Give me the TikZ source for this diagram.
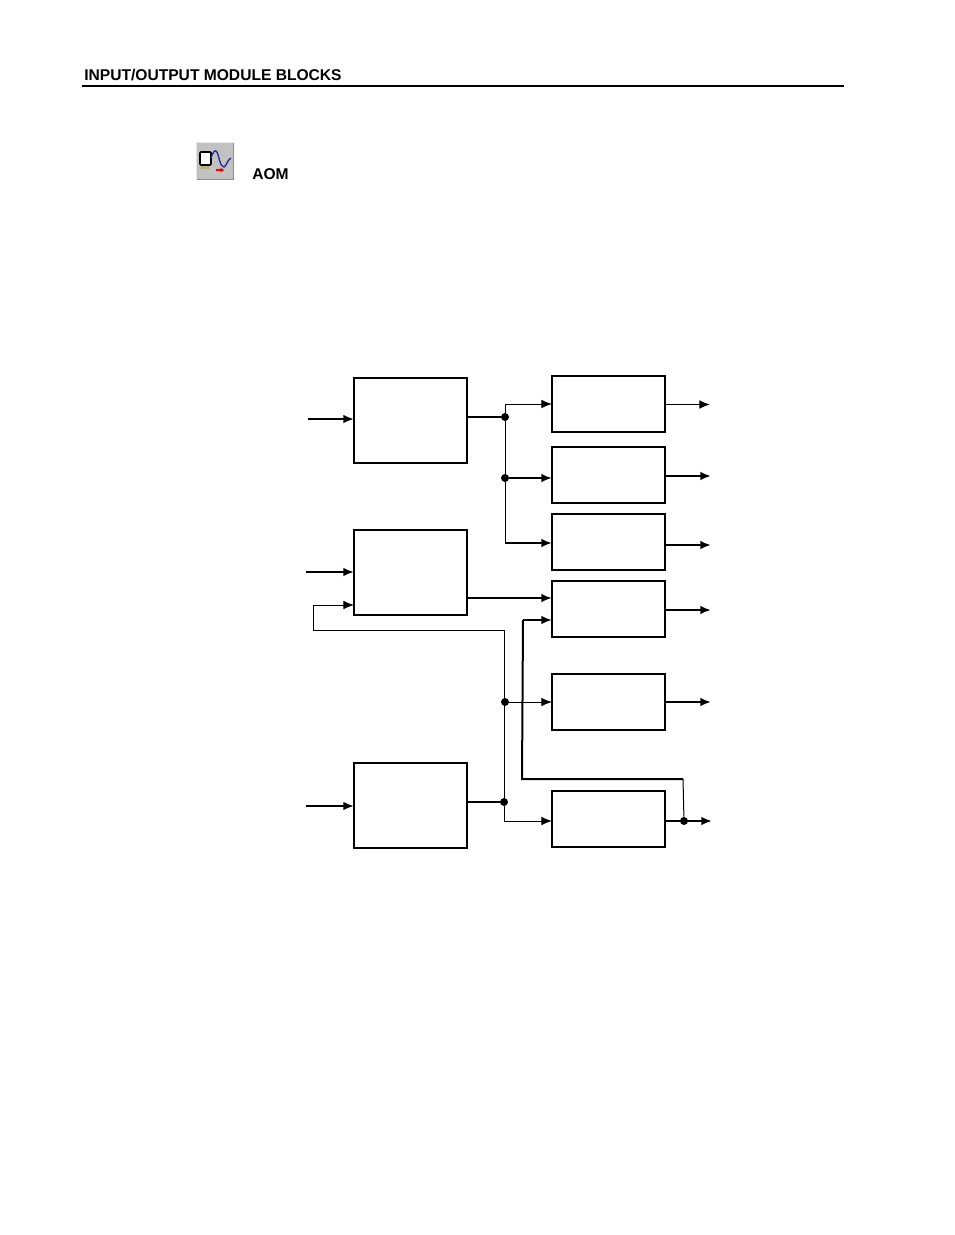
\documentclass[tikz,border=0pt]{standalone}
\usepackage{fontspec}
\setmainfont{Liberation Sans}
\usetikzlibrary{arrows.meta}
\definecolor{mybtn}{gray}{.76}
\definecolor{mybtnlight}{gray}{.9}
\definecolor{mybtndark}{gray}{.55}
\definecolor{mywave}{RGB}{40,40,150}
\definecolor{mypin}{RGB}{170,170,90}
\newcommand{\widthblock}{84.75pt}
\tikzset{
    common/.style={draw, rectangle, line width=1.4pt, minimum width=\widthblock, inner sep=0pt, outer sep=0pt},
    large/.style={common, minimum height=63.75pt},
    small/.style={common, minimum height=42pt},
    joint/.style={circle, fill=black, inner sep=0pt, minimum size=6pt},
    wire/.style={line width=.75pt},
    bus/.style={line width=1.5pt},
    tip/.style={-{Latex[length=8pt,width=6.5pt]}},
    heading/.style={font=\bfseries\fontsize{11.7}{13}\selectfont, inner sep=0pt}
}
\begin{document}
\begin{tikzpicture}[x=.75pt, y=-.75pt]
    \useasboundingbox[fill=white] (0,0) rectangle (954,1235);

    % page heading
    \node[heading, anchor=base west] (title) at (84,80) {INPUT/OUTPUT MODULE BLOCKS};
    \coordinate (ruleleft) at (82,86);
    \coordinate (ruleright) at (844,86);
    \draw[line width=1.5pt] (ruleleft) -- (ruleright);

    % toolbar icon
    \fill[mybtn] (196.5,142.5) rectangle (233.5,179.5);
    \draw[mybtnlight, line width=.8pt] (196.5,179.5) -- (196.5,142.5) -- (233.5,142.5);
    \draw[mybtndark, line width=1pt] (233.5,142.5) -- (233.5,179.5) -- (196.5,179.5);
    \draw[mypin, line width=1pt] (202,165) -- (202,168.5) (205,165) -- (205,168.5) (208,165) -- (208,168.5);
    \draw[fill=white, line width=1.2pt, rounded corners=.8pt] (200,152) rectangle (211,165);
    \draw[mywave, line width=1pt] (211,158) .. controls (213,152) and (215,149) .. (217,152) .. controls (219,156) and (220,167) .. (224,167) .. controls (226,167) and (227,160) .. (231,158);
    \draw[red, line width=.8pt, -{Latex[length=3.5pt,width=3.5pt]}] (216,170) -- (225,170);
    \node[heading, anchor=base west] (aom) at (252,179) {AOM};

    % blocks
    \node[large] (inblock) at (410.5,420.5) {};
    \node[large] (midblock) at (410.5,572.5) {};
    \node[large] (lowblock) at (410.5,805.5) {};
    \node[small] (outa) at (608.5,404) {};
    \node[small] (outb) at (608.5,475) {};
    \node[small] (outc) at (608.5,542) {};
    \node[small] (outd) at (608.5,609) {};
    \node[small] (oute) at (608.5,702) {};
    \node[small] (outf) at (608.5,819) {};

    % junctions
    \node[joint] (ja) at (505,417) {};
    \node[joint] (jb) at (505,478) {};
    \node[joint] (jc) at (505,702) {};
    \node[joint] (jd) at (504,802) {};
    \node[joint] (je) at (684,821) {};

    % free ends of the wires
    \coordinate (ina) at (308,419);
    \coordinate (inb) at (306,572);
    \coordinate (inc) at (306,806);
    \coordinate (loopa) at (313,605);
    \coordinate (loopb) at (313,630);
    \coordinate (loopc) at (504,630);
    \coordinate (backa) at (523,620);
    \coordinate (backb) at (522,779);
    \coordinate (backc) at (683,779);
    \coordinate (fanc) at (505,543);
    \coordinate (midout) at (467,598);
    \coordinate (enda) at (710,404.5);
    \coordinate (endb) at (711,476);
    \coordinate (endc) at (711,545);
    \coordinate (endd) at (711,610);
    \coordinate (ende) at (711,702);
    \coordinate (endf) at (712,821);

    % inputs
    \draw[bus, tip] (ina) -- (ina -| inblock.west);
    \draw[bus, tip] (inb) -- (inb -| midblock.west);
    \draw[bus, tip] (inc) -- (inc -| lowblock.west);

    % first block and its fan out
    \draw[bus] (inblock.east |- ja) -- (ja);
    \draw[wire, tip] (ja) |- (outa.west);
    \draw[wire] (ja) -- (jb) -- (fanc);
    \draw[bus, tip] (jb) -- (jb -| outb.west);
    \draw[bus, tip] (fanc) -- (fanc -| outc.west);

    % second block, third block and the loop back
    \draw[bus, tip] (midout) -- (midout -| outd.west);
    \draw[wire, tip] (jc) -- (jc -| oute.west);
    \draw[wire] (jd) -- (loopc) -- (loopb) -- (loopa);
    \draw[wire, tip] (loopa) -- (loopa -| midblock.west);
    \draw[bus] (lowblock.east |- jd) -- (jd);
    \draw[wire, tip] (jd) |- (outf.west |- je);

    % last output back to the fourth block
    \draw[wire] (je) -- (backc);
    \draw[bus] (backc) -- (backb) -- (backa);
    \draw[bus, tip] (backa) -- (backa -| outd.west);

    % outputs
    \draw[wire, tip] (outa.east |- enda) -- (enda);
    \draw[bus, tip] (outb.east |- endb) -- (endb);
    \draw[bus, tip] (outc.east |- endc) -- (endc);
    \draw[bus, tip] (outd.east |- endd) -- (endd);
    \draw[bus, tip] (oute.east |- ende) -- (ende);
    \draw[bus, tip] (outf.east |- endf) -- (endf);
\end{tikzpicture}
\end{document}
